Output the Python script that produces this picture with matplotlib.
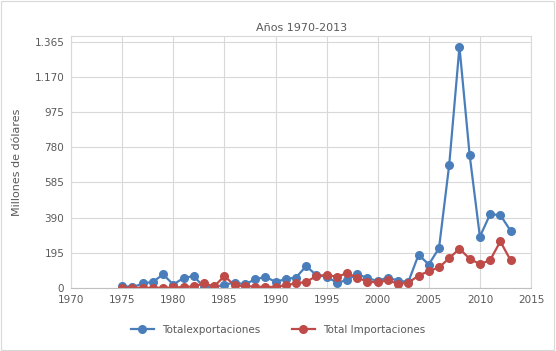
import matplotlib.pyplot as plt
import numpy as np

anios = np.arange(1975, 2014)
exportaciones = [13, 5, 26, 35, 76, 20, 57, 67, 5, 5, 20, 30, 22, 48, 63, 35, 50, 59,
                 122, 72, 63, 31, 44, 80, 54, 41, 59, 41, 35, 185, 131, 222, 684, 1336,
                 736, 285, 409, 405, 318]
importaciones = [2, 2, 2, 2, 2, 4, 6, 10, 26, 10, 67, 15, 12, 8, 7, 7, 17, 26,
                 35, 67, 74, 63, 83, 59, 35, 33, 43, 24, 30, 70, 94, 115, 166, 218,
                 163, 133, 155, 259, 155]
yticks = [0, 195, 390, 585, 780, 975, 1170, 1365]
ytick_labels = ['0', '195', '390', '585', '780', '975', '1.170', '1.365']

azul = '#4a7ebb'
rojo = '#be4b48'
gris = '#595959'

fig = plt.figure(figsize=(5.56, 3.51), dpi=100)
ax = fig.add_axes([0.128, 0.179, 0.827, 0.718])

ax.plot(anios, exportaciones, color=azul, lw=1.6, marker='o', ms=5.5, label='Totalexportaciones')
ax.plot(anios, importaciones, color=rojo, lw=1.6, marker='o', ms=5.5, label='Total Importaciones')

ax.set_xlim(1970, 2015)
ax.set_ylim(0, 1395)
ax.set_xticks(np.arange(1970, 2016, 5))
ax.set_yticks(yticks)
ax.set_yticklabels(ytick_labels)
ax.grid(True, color='#d9d9d9', lw=0.8)
ax.set_axisbelow(True)
for s in ['left', 'right', 'top']:
    ax.spines[s].set_color('#d9d9d9')
    ax.spines[s].set_linewidth(0.8)
ax.spines['bottom'].set_color('#bfbfbf')
ax.tick_params(length=0, labelsize=7.5, colors=gris, pad=5)
ax.set_ylabel('Millones de dólares', fontsize=8, color=gris, labelpad=9)
ax.set_title('Años 1970-2013', fontsize=8, color=gris, pad=4)

fig.legend(loc='lower center', bbox_to_anchor=(0.5, 0.02), ncol=2, frameon=False,
           fontsize=7.5, labelcolor=gris, handlelength=2.2, columnspacing=3)

fig.patches.append(plt.Rectangle((0.002, 0.003), 0.995, 0.994, transform=fig.transFigure,
                                 fill=False, edgecolor='#d9d9d9', lw=0.8))

fig.savefig('out.png', dpi=100)
